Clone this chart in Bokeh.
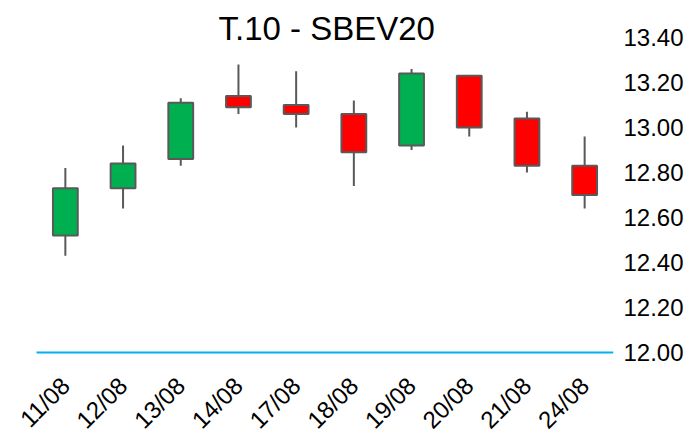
import math
from bokeh.plotting import figure
from bokeh.models import ColumnDataSource, FixedTicker, NumeralTickFormatter, Range1d, Label
from bokeh.embed import file_html
from bokeh.resources import INLINE

dates = ["11/08", "12/08", "13/08", "14/08", "17/08", "18/08", "19/08", "20/08", "21/08", "24/08"]
open_ = [12.52, 12.73, 12.86, 13.14, 13.10, 13.06, 12.92, 13.23, 13.04, 12.83]
close = [12.73, 12.84, 13.11, 13.09, 13.06, 12.89, 13.24, 13.00, 12.83, 12.70]
high = [12.82, 12.92, 13.13, 13.28, 13.25, 13.12, 13.26, 13.23, 13.07, 12.96]
low = [12.43, 12.64, 12.83, 13.06, 13.00, 12.74, 12.90, 12.96, 12.80, 12.64]
y_ticks = [12.0, 12.2, 12.4, 12.6, 12.8, 13.0, 13.2, 13.4]
title_text = "T.10 - SBEV20"

UP = "#00B050"
DOWN = "#FF0000"
EDGE = "#595959"
FONT = "Liberation Sans"

n = len(dates)
idx = list(range(n))
colors = [UP if c >= o else DOWN for o, c in zip(open_, close)]
top = [max(o, c) for o, c in zip(open_, close)]
bottom = [min(o, c) for o, c in zip(open_, close)]

src = ColumnDataSource(dict(x=idx, open=open_, close=close, high=high, low=low,
                            top=top, bottom=bottom, color=colors))

# frame spans 0..613 px; categories occupy the right-hand 577 px (36..613)
left_pad = 36 / 57.7
p = figure(width=693, height=433, x_range=Range1d(-0.5 - left_pad, n - 0.5), y_range=Range1d(11.64, 13.5644),
           output_backend="svg", toolbar_location=None, y_axis_location="right",
           min_border_left=0, min_border_top=0, min_border_right=80, min_border_bottom=0)
p.outline_line_color = None
p.xgrid.visible = False
p.ygrid.visible = False

# baseline at 12.00 across the category area
p.segment(x0=[-0.5], y0=[y_ticks[0]], x1=[n - 0.5], y1=[y_ticks[0]], line_color="#00B0F0", line_width=2)

p.segment(x0="x", y0="low", x1="x", y1="high", source=src, line_color=EDGE, line_width=2)
p.vbar(x="x", top="top", bottom="bottom", width=0.43, source=src,
       fill_color="color", line_color=EDGE, line_width=2)

p.yaxis.ticker = FixedTicker(ticks=y_ticks)
p.yaxis.formatter = NumeralTickFormatter(format="0.00")
p.yaxis.axis_line_color = None
p.yaxis.major_tick_line_color = None
p.yaxis.minor_tick_line_color = None
p.yaxis.major_label_standoff = 4
p.yaxis.major_label_text_font = FONT
p.yaxis.major_label_text_font_size = "24px"
p.yaxis.major_label_text_color = "black"

p.xaxis.fixed_location = y_ticks[0]
p.xaxis.ticker = FixedTicker(ticks=idx)
p.xaxis.major_label_overrides = {i: d for i, d in zip(idx, dates)}
p.xaxis.axis_line_color = None
p.xaxis.major_tick_line_color = None
p.xaxis.minor_tick_line_color = None
p.xaxis.major_label_orientation = math.pi / 4
p.xaxis.major_label_standoff = 23
p.xaxis.major_label_text_font = FONT
p.xaxis.major_label_text_font_size = "24px"
p.xaxis.major_label_text_color = "black"

p.add_layout(Label(x=(n - 1) / 2 + 0.03, y=13.44, text=title_text, text_align="center",
                   text_baseline="alphabetic", text_font=FONT, text_font_size="33px", text_color="black"))

open("out.html", "w").write(file_html(p, INLINE))
